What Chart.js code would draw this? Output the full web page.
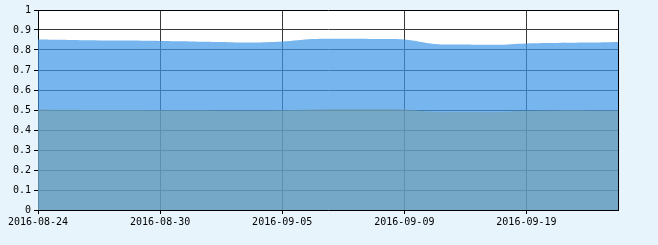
<!DOCTYPE html>
<html>
<head>
<meta charset="utf-8">
<script src="https://cdn.jsdelivr.net/npm/chart.js@4/dist/chart.umd.min.js"></script>
<style>
  html, body { margin: 0; padding: 0; background: #e8f4fc; }
  #wrap { width: 658px; height: 245px; position: relative; }
</style>
</head>
<body>
<div id="wrap"><canvas id="chart" width="658" height="245"></canvas></div>
<script>
// DATA
const dates = [
  "2016-08-24", "2016-08-25", "2016-08-26", "2016-08-29", "2016-08-30",
  "2016-08-31", "2016-09-01", "2016-09-02", "2016-09-05", "2016-09-06",
  "2016-09-07", "2016-09-08", "2016-09-09", "2016-09-12", "2016-09-13",
  "2016-09-14", "2016-09-19", "2016-09-20", "2016-09-21", "2016-09-22",
];
const upperValues = [
  0.852, 0.85, 0.848, 0.847, 0.845, 0.843, 0.84, 0.837, 0.842, 0.855,
  0.856, 0.855, 0.852, 0.83, 0.828, 0.826, 0.833, 0.835, 0.837, 0.84,
];
const lowerValues = [
  0.503, 0.501, 0.5, 0.5, 0.499, 0.499, 0.498, 0.497, 0.499, 0.503,
  0.505, 0.505, 0.503, 0.49, 0.49, 0.489, 0.496, 0.498, 0.498, 0.497,
];
const yTicks = [0, 0.1, 0.2, 0.3, 0.4, 0.5, 0.6, 0.7, 0.8, 0.9, 1];
const labelStep = 4;

const tickFont = { family: "'DejaVu Sans Mono', monospace", size: 10 };

// white plot area
const plotBg = {
  id: "plotBg",
  beforeDraw(chart) {
    const { ctx, chartArea: a } = chart;
    ctx.save();
    ctx.fillStyle = "#ffffff";
    ctx.fillRect(a.left, a.top, a.right - a.left, a.bottom - a.top);
    ctx.restore();
  },
  afterDraw(chart) {
    // right border
    const { ctx, chartArea: a } = chart;
    ctx.save();
    ctx.strokeStyle = "#000";
    ctx.lineWidth = 1;
    ctx.beginPath();
    ctx.moveTo(Math.round(a.right) + 0.5, a.top);
    ctx.lineTo(Math.round(a.right) + 0.5, a.bottom);
    ctx.stroke();
    ctx.restore();
  },
};

const ctx = document.getElementById("chart").getContext("2d");
new Chart(ctx, {
  type: "line",
  data: {
    labels: dates,
    datasets: [
      {
        label: "lower",
        data: lowerValues,
        fill: "origin",
        backgroundColor: "rgba(117, 159, 171, 0.6)",
        borderWidth: 0,
        borderColor: "rgba(0,0,0,0)",
        pointRadius: 0,
        tension: 0.4,
      },
      {
        label: "upper",
        data: upperValues,
        fill: "origin",
        backgroundColor: "rgba(60, 150, 230, 0.7)",
        borderWidth: 0,
        borderColor: "rgba(0,0,0,0)",
        pointRadius: 0,
        tension: 0.4,
      },
    ],
  },
  options: {
    responsive: false,
    animation: false,
    layout: { padding: { top: 10, right: 40, left: 0, bottom: 0 } },
    plugins: {
      legend: { display: false },
      tooltip: { enabled: false },
    },
    scales: {
      x: {
        type: "category",
        offset: false,
        afterFit: (s) => { s.height = 35; },
        border: { color: "#000", width: 1 },
        grid: {
          color: (c) => (c.index % labelStep === 0 ? "#3a3a3a" : "rgba(0,0,0,0)"),
          tickColor: (c) => (c.index % labelStep === 0 && c.index < dates.length - 1 ? "#000" : "rgba(0,0,0,0)"),
          tickLength: 4,
        },
        ticks: {
          autoSkip: false,
          maxRotation: 0,
          padding: 2,
          color: "#000",
          font: tickFont,
          callback: (v, i) => (i % labelStep === 0 ? dates[i] : ""),
        },
      },
      y: {
        min: 0,
        max: 1,
        afterFit: (s) => { s.width = 38; },
        afterBuildTicks: (s) => { s.ticks = yTicks.map((v) => ({ value: v })); },
        border: { color: "#000", width: 1 },
        grid: {
          color: (c) => (c.tick && c.tick.value === 1 ? "#000" : "#3a3a3a"),
          tickColor: "#000",
          tickLength: 4,
        },
        ticks: {
          padding: 3,
          color: "#000",
          font: tickFont,
          callback: (v) => String(v),
        },
      },
    },
  },
  plugins: [plotBg],
});
</script>
</body>
</html>
